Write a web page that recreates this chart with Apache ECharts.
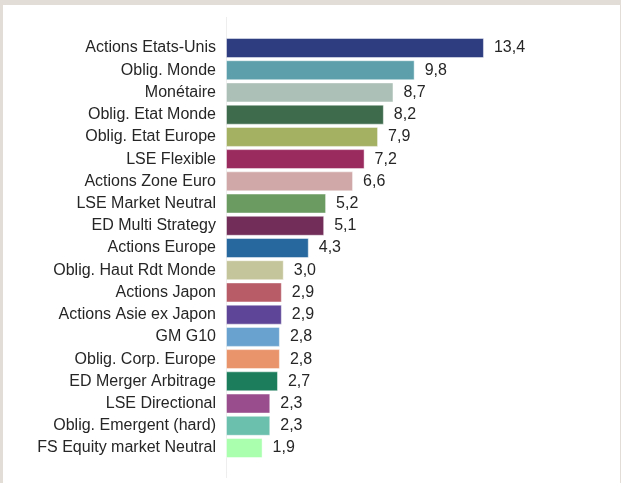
<!DOCTYPE html>
<html><head><meta charset="utf-8">
<script src="https://cdn.jsdelivr.net/npm/echarts@6/dist/echarts.min.js"></script>
<style>
html,body{margin:0;padding:0;background:#e3ddd8;width:621px;height:483px;overflow:hidden;}
#c{position:absolute;left:3px;top:5px;width:617px;height:478px;background:#fff;}
</style></head>
<body><div id="c"></div>
<script>
const categories = ["Actions Etats-Unis","Oblig. Monde","Monétaire","Oblig. Etat Monde","Oblig. Etat Europe","LSE Flexible","Actions Zone Euro","LSE Market Neutral","ED Multi Strategy","Actions Europe","Oblig. Haut Rdt Monde","Actions Japon","Actions Asie ex Japon","GM G10","Oblig. Corp. Europe","ED Merger Arbitrage","LSE Directional","Oblig. Emergent (hard)","FS Equity market Neutral"];
const values = [13.4,9.8,8.7,8.2,7.9,7.2,6.6,5.2,5.1,4.3,3.0,2.9,2.9,2.8,2.8,2.7,2.3,2.3,1.9];
const colors = ["#2e3d80","#5da0ab","#acc0b7","#3d6b4c","#a4b062","#9a2b5e","#d0a8a8","#6c9b62","#722e58","#27699f","#c5c59b","#b85c68","#5e4597","#69a2cf","#ea946b","#1b7d5b","#9a4d8c","#6bbfad","#a9ffad"];

const chart = echarts.init(document.getElementById('c'), null, {renderer:'canvas'});
const gridLeft = 223, gridTop = 31.9, gridH = 422.2, unit = 19.25, xMax = 15;
chart.setOption({
  animation:false,
  backgroundColor:'#fff',
  grid:{left:gridLeft, top:gridTop, height:gridH, width:unit*xMax},
  xAxis:{type:'value', min:0, max:xMax, show:false},
  yAxis:{type:'category', data:categories, inverse:true,
    axisLine:{show:false}, axisTick:{show:false},
    axisLabel:{color:'#262626', fontSize:16, fontFamily:'Liberation Sans, Arial, sans-serif', margin:10}},
  graphic:[{type:'line', shape:{x1:gridLeft+0.5,y1:12,x2:gridLeft+0.5,y2:473}, style:{stroke:'#eeeeee', lineWidth:1}, z:0}],
  series:[{type:'bar', barWidth:20,
    data: values.map((v,i)=>({value:v, itemStyle:{color:colors[i]}})),
    itemStyle:{borderColor:'rgba(255,255,255,0.45)', borderWidth:1},
    label:{show:true, position:'right', distance:10, color:'#262626', fontSize:16,
      fontFamily:'Liberation Sans, Arial, sans-serif',
      formatter:p=>p.value.toFixed(1).replace('.',',')}
  }]
});
</script></body></html>
